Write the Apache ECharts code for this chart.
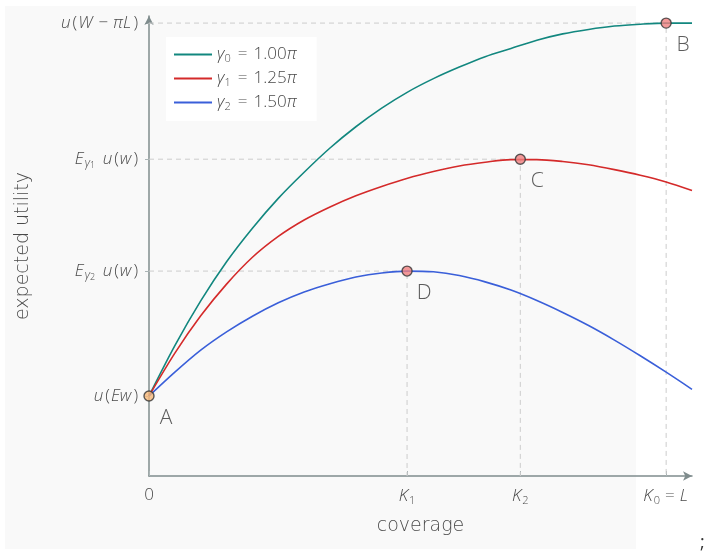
<!DOCTYPE html>
<html><head><meta charset="utf-8">
<script src="https://cdn.jsdelivr.net/npm/echarts@6/dist/echarts.min.js"></script>
<style>html,body{margin:0;padding:0;background:#fff}#c{width:707px;height:552px}</style>
</head><body><div id="c"></div>
<script>
// coverage (L = 1) and expected utility (u(Ew) = 0, u(W - piL) = 1)
const xs = [0,0.05,0.1,0.15,0.2,0.25,0.3,0.35,0.4,0.45,0.5,0.55,0.6,0.65,0.7,0.75,0.8,0.85,0.9,0.95,1.0,1.05];
const yTeal = [0,0.135,0.255,0.360,0.450,0.530,0.600,0.665,0.722,0.772,0.815,0.851,0.882,0.910,0.932,0.954,0.971,0.983,0.992,0.997,1.0,1.0];
const yRed  = [0,0.115,0.215,0.300,0.372,0.428,0.472,0.507,0.537,0.562,0.584,0.602,0.617,0.627,0.634,0.634,0.629,0.620,0.607,0.592,0.574,0.551];
const yBlue = [0,0.064,0.123,0.172,0.214,0.250,0.279,0.301,0.319,0.330,0.335,0.333,0.323,0.306,0.284,0.256,0.224,0.189,0.150,0.108,0.064,0.018];

const pointNames = ['A','B','C','D'];
const pointX = [0, 1.0, 0.718, 0.499];
const pointY = [0, 1.0, 0.635, 0.335];

const xTickValues = [0, 0.499, 0.718, 1.0];
const xTickLabels = ['{n|0}', '{i|K}{s|1}', '{i|K}{s|2}', '{i|K}{s|0}{e|=}{i|L}'];
const yTickValues = [0, 0.335, 0.635, 1.0];
const yTickLabels = ['{i|u}{n|(}{i|Ew}{n|)}', '{i|E}{sg|γ}{ss|2}{i| u}{n|(}{i|w}{n|)}', '{i|E}{sg|γ}{ss|1}{i| u}{n|(}{i|w}{n|)}', '{i|u}{n|(}{i|W}{e|−}{i|πL}{n|)}'];

const legendLabels = {'g0':'{g|γ}{s|0}{e|=}{n|1.00}{g|π}','g1':'{g|γ}{s|1}{e|=}{n|1.25}{g|π}','g2':'{g|γ}{s|2}{e|=}{n|1.50}{g|π}'};

const XMIN = 0, XMAX = 1.05, YMIN = -0.2145, YMAX = 1.019;
const FONT = '"Open Sans"';
const NFONT = '"DejaVu Sans"';
const TXT = '#4a4a4a';

const zip = (xv, yv) => xv.map((x,i)=>[x, yv[i]]);

const rich = {
  i: {fontStyle:'italic', fontSize:17, fontWeight:300, fontFamily:FONT, color:TXT, padding:[0,1,0,0]},
  n: {fontSize:17, fontWeight:300, fontFamily:FONT, color:TXT, padding:[0,1,0,1]},
  e: {fontSize:17, fontWeight:300, fontFamily:FONT, color:TXT, padding:[0,5,0,5]},
  s: {fontSize:11, fontWeight:300, fontFamily:FONT, color:TXT, padding:[8,0,0,0]},
  sg: {fontStyle:'italic', fontSize:12, fontWeight:300, fontFamily:FONT, color:TXT, padding:[8,0,0,0]},
  ss: {fontSize:9, fontWeight:300, fontFamily:FONT, color:TXT, padding:[12,3,0,0]}
};
const legRich = {
  g: {fontStyle:'italic', fontSize:17, fontWeight:300, fontFamily:FONT, color:TXT},
  n: {fontSize:17, fontWeight:300, fontFamily:FONT, color:TXT},
  e: {fontSize:17, fontWeight:300, fontFamily:FONT, color:TXT, padding:[0,6,0,6]},
  s: {fontSize:11, fontWeight:300, fontFamily:FONT, color:TXT, padding:[8,1,0,0]}
};

function guide(x, y) {
  const d = x === 0 ? [] : [[0, y], [x, y], [x, YMIN]];
  return {type:'line', data:d, symbol:'none', silent:true, z:1,
          lineStyle:{color:'#cccccc', width:1, type:[5,4]}};
}

const chart = echarts.init(document.getElementById('c'));
chart.setOption({
  animation:false,
  backgroundColor:'#ffffff',
  graphic:[
    {type:'rect', z:-100, shape:{x:5,y:6,width:631,height:543}, style:{fill:'#f9f9f9'}},
    {type:'text', x:700, y:534, style:{text:';', fontSize:18, fontFamily:FONT, fill:'#333'}}
  ],
  grid:{left:149, top:16, right:15, bottom:76, containLabel:false, outerBoundsMode:'none'},
  legend:{
    orient:'vertical', left:166, top:37, data:['g0','g1','g2'],
    icon:'rect', itemWidth:38, itemHeight:2, itemGap:5,
    backgroundColor:'#ffffff', borderWidth:0, padding:[8,20,9,8],
    formatter:n=>legendLabels[n],
    textStyle:{rich:legRich, lineHeight:19}
  },
  xAxis:{
    type:'value', min:XMIN, max:XMAX,
    name:'coverage', nameLocation:'middle', nameGap:41,
    nameTextStyle:{fontSize:19, fontWeight:200, fontFamily:NFONT, color:TXT},
    axisLine:{onZero:false, symbol:['none','arrow'], symbolSize:[7,9], lineStyle:{color:'#7f8c8d', width:1.5}},
    axisTick:{show:true, inside:true, length:5, customValues:xTickValues, lineStyle:{color:'#aab4b5'}},
    axisLabel:{customValues:xTickValues, margin:11,
      formatter:v=>xTickLabels[xTickValues.indexOf(v)], rich:rich},
    splitLine:{show:false}
  },
  yAxis:{
    type:'value', min:YMIN, max:YMAX,
    name:'expected utility', nameLocation:'middle', nameGap:116,
    nameTextStyle:{fontSize:19, fontWeight:200, fontFamily:NFONT, color:TXT},
    axisLine:{onZero:false, symbol:['none','arrow'], symbolSize:[7,9], lineStyle:{color:'#7f8c8d', width:1.5}},
    axisTick:{show:true, length:4, customValues:yTickValues, lineStyle:{color:'#aab4b5'}},
    axisLabel:{customValues:yTickValues, margin:10,
      formatter:v=>yTickLabels[yTickValues.indexOf(v)], rich:rich},
    splitLine:{show:false}
  },
  series:[
    guide(pointX[1], pointY[1]),
    guide(pointX[2], pointY[2]),
    guide(pointX[3], pointY[3]),
    {name:'g0', type:'line', data:zip(xs,yTeal), smooth:0.3, symbol:'none', z:3,
     lineStyle:{color:'#12877f', width:1.6}, itemStyle:{color:'#12877f'}},
    {name:'g1', type:'line', data:zip(xs,yRed), smooth:0.3, symbol:'none', z:3,
     lineStyle:{color:'#d42a2a', width:1.6}, itemStyle:{color:'#d42a2a'}},
    {name:'g2', type:'line', data:zip(xs,yBlue), smooth:0.3, symbol:'none', z:3,
     lineStyle:{color:'#3a5fd9', width:1.6}, itemStyle:{color:'#3a5fd9'}},
    {type:'scatter', z:5, symbolSize:10,
     data:pointNames.map((n,i)=>({name:n, value:[pointX[i],pointY[i]],
       itemStyle:{color: i===0 ? '#f8b878' : '#f08080', borderColor:'#333', borderWidth:1.4}})),
     label:{show:true, position:'inside', offset:[17,22], formatter:p=>p.name,
       fontSize:21, fontWeight:300, fontFamily:FONT, color:'#333'}}
  ]
});
</script></body></html>
